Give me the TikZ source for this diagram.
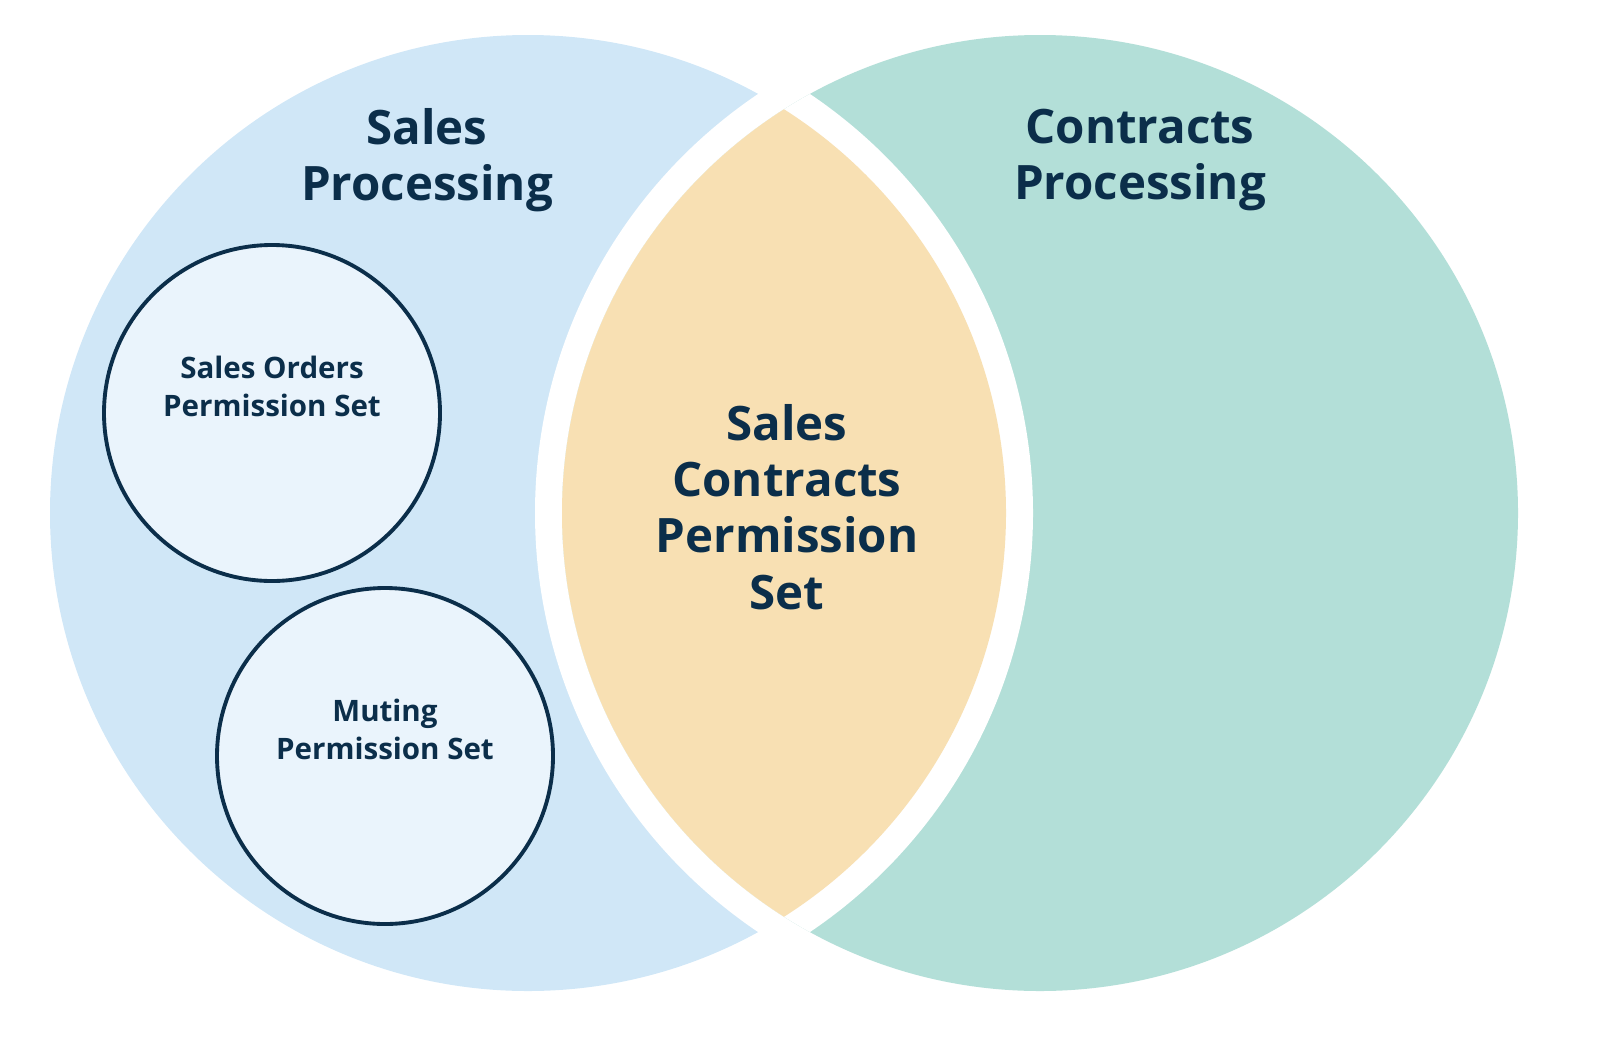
\documentclass[tikz,border=0pt]{standalone}
\usepackage{fontspec}
\setmainfont{Open Sans}
\usetikzlibrary{positioning}
\definecolor{salesblue}{HTML}{D0E7F7}
\definecolor{contractteal}{HTML}{B3DFD8}
\definecolor{lensorange}{HTML}{F8E0B3}
\definecolor{setfill}{HTML}{EAF4FC}
\definecolor{navy}{HTML}{0B2E4A}
\tikzset{
  bigtitle/.style={
    text=navy,
    align=center,
    font=\fontsize{13.5}{16}\selectfont\bfseries,
  },
  permset/.style={
    draw=navy,
    shape=circle,
    line width=1.1pt,
    fill=setfill,
    minimum size=3.36cm,
    align=center,
    text=navy,
    font=\fontsize{8.4}{10.6}\selectfont\bfseries,
  }
}
\begin{document}
\begin{tikzpicture}
    \useasboundingbox (0,0) rectangle (16,10.38);
    \coordinate (L) at (5.28, 5.25);
    \coordinate (R) at (10.40, 5.25);

    % the two areas with white gaps round them
    \fill [salesblue] (L) circle (4.78);
    \fill [white] (R) circle (5.05);
    \fill [contractteal] (R) circle (4.78);
    \begin{scope}
      \clip (R) circle (4.78);
      \fill [white] (L) circle (5.05);
      \clip (L) circle (4.78);
      \fill [lensorange] (R) circle (4.78);
    \end{scope}

    \node [bigtitle] (sales) at (4.27, 8.78) {Sales\\Processing};
    \node [bigtitle] (contracts) at (11.40, 8.78) {Contracts\\Processing};
    \node [bigtitle] (shared) at (7.87, 5.31) {Sales\\Contracts\\Permission\\Set};

    \node [permset] (orders) at (2.72, 6.25) {Sales Orders\\Permission Set\\[0.55em]};
    \node [permset] (muting) at (3.85, 2.82) {Muting\\Permission Set\\[0.55em]};
  \end{tikzpicture}
\end{document}
